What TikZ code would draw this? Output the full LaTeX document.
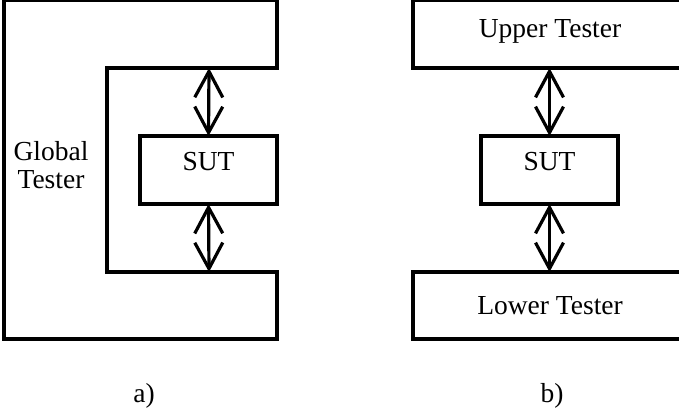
\documentclass[tikz,border=0pt]{standalone}
\usepackage{fontspec}
\setmainfont{Liberation Serif}
\usetikzlibrary{arrows.meta}
\begin{document}
\begin{tikzpicture}[x=1pt,y=-1pt,
  box/.style={draw, line width=3.2pt, rectangle, inner sep=0pt, outer sep=0pt},
  lbl/.style={font=\fontsize{27.5}{27.5}\selectfont, inner sep=0pt},
  link/.style={line width=3.2pt, {Straight Barb[length=26pt,width=28pt]}-{Straight Barb[length=26pt,width=28pt]}}
]
\clip (0,0) rectangle (679,415);
% ---- a) ----
\draw[line width=3.2pt, line join=miter]
  (4,0.5) -- (277,0.5) -- (277,68) -- (107,68) -- (107,272) -- (277,272)
  -- (277,339) -- (4,339) -- cycle;
\coordinate (gtA) at (209,68);
\coordinate (gbA) at (209,272);
\node[lbl, align=center] (global) at (51,165) {Global\\Tester};
\node[box, lbl, minimum width=137pt, minimum height=68pt, text depth=17pt] (sutA) at (208.5,170) {SUT};
\draw[link] (gtA) -- (sutA.north);
\draw[link] (sutA.south) -- (gbA);
% ---- b) ----
\node[box, lbl, minimum width=274pt, minimum height=67.5pt, text depth=12pt] (upper) at (550,34.25) {Upper Tester};
\node[box, lbl, minimum width=137pt, minimum height=68pt, text depth=17pt] (sutB) at (549.5,170) {SUT};
\node[box, lbl, minimum width=274pt, minimum height=67pt] (lower) at (550,305.5) {Lower Tester};
\draw[link] (upper.south -| sutB.north) -- (sutB.north);
\draw[link] (sutB.south) -- (lower.north -| sutB.south);
% ---- captions ----
\node[lbl] (capA) at (144,396) {a)};
\node[lbl] (capB) at (552,396) {b)};
\end{tikzpicture}
\end{document}
